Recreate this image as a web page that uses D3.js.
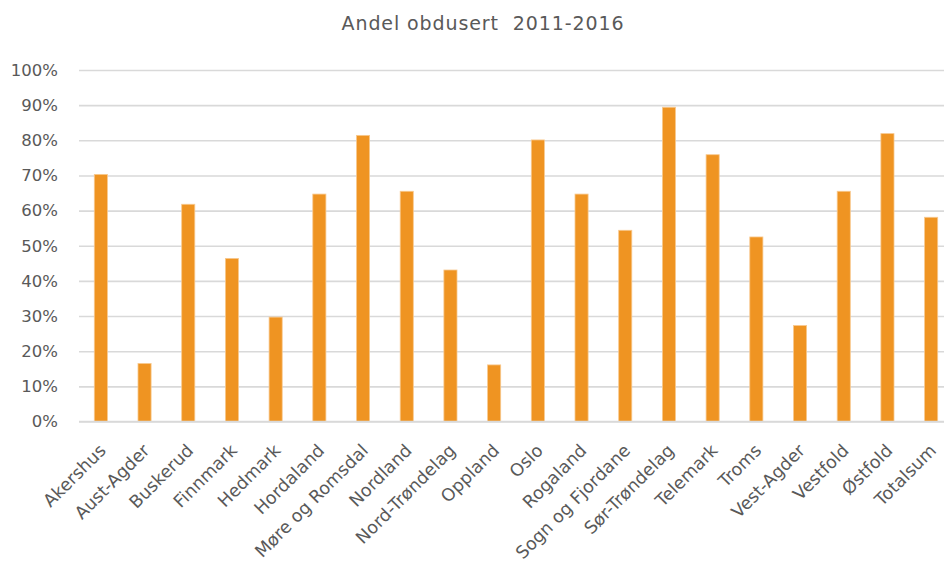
<!DOCTYPE html>
<html lang="no">
<head>
  <meta charset="UTF-8">
  <title>Andel obdusert 2011-2016</title>
  <script src="https://d3js.org/d3.v7.min.js"></script>
  <style>
    body { margin: 0; background: #fff; }
    svg { display: block; font-family: "DejaVu Sans", sans-serif; }
  </style>
</head>
<body>
  <script>
    const fylker = ['Akershus', 'Aust-Agder', 'Buskerud', 'Finnmark', 'Hedmark', 'Hordaland',
      'Møre og Romsdal', 'Nordland', 'Nord-Trøndelag', 'Oppland', 'Oslo', 'Rogaland',
      'Sogn og Fjordane', 'Sør-Trøndelag', 'Telemark', 'Troms', 'Vest-Agder', 'Vestfold',
      'Østfold', 'Totalsum'];
    const andel = [70.3, 16.5, 61.8, 46.4, 29.7, 64.7, 81.4, 65.5, 43.1, 16.1, 80.1, 64.7,
      54.4, 89.4, 75.9, 52.5, 27.3, 65.5, 81.9, 58.1];
    const yTicks = [0, 10, 20, 30, 40, 50, 60, 70, 80, 90, 100];

    const w = 944;
    const h = 572;

    // plot area, right side runs past the window edge like in the original
    const plotLeft = 79, plotRight = 953, plotTop = 70, plotBottom = 421.5;

    const svg = d3.select('body')
      .append('svg')
      .attr('width', w)
      .attr('height', h)

    const x = d3.scaleBand()
      .domain(fylker)
      .range([plotLeft, plotRight])
      .paddingInner(0.7)
      .paddingOuter(0.35)

    const y = d3.scaleLinear()
      .domain([0, 100])
      .range([plotBottom, plotTop])

    // title
    svg.append('text')
      .attr('x', 483)
      .attr('y', 30)
      .attr('text-anchor', 'middle')
      .attr('font-size', 19)
      .attr('letter-spacing', 0.9)
      .attr('fill', '#595959')
      .style('white-space', 'pre')
      .text('Andel obdusert  2011-2016')

    // gridlines + y labels
    const yAxis = d3.axisLeft(y)
      .tickValues(yTicks)
      .tickSize(-(w - plotLeft))
      .tickFormat(d => d + '%')

    const gy = svg.append('g')
      .attr('transform', `translate(${plotLeft},0)`)
      .call(yAxis)
    gy.select('.domain').remove()
    gy.selectAll('line').attr('stroke', '#d9d9d9').attr('stroke-width', 1.6)
    gy.selectAll('text')
      .attr('x', -21)
      .attr('font-size', 16.5)
      .attr('fill', '#595959')
      .attr('font-family', '"DejaVu Sans", sans-serif')

    // bars
    svg.selectAll('rect.bar')
      .data(fylker)
      .enter()
      .append('rect')
      .attr('class', 'bar')
      .attr('x', (d) => x(d))
      .attr('y', (d, i) => y(andel[i]))
      .attr('width', x.bandwidth())
      .attr('height', (d, i) => y(0) - y(andel[i]))
      .attr('fill', '#ef9422')
      .attr('stroke', '#f8c98f')
      .attr('stroke-width', 0.8)

    // x axis
    const xAxis = d3.axisBottom(x).tickSize(0)
    const gx = svg.append('g')
      .attr('transform', `translate(0,${plotBottom})`)
      .call(xAxis)
    gx.select('.domain').remove()
    gx.selectAll('text')
      .attr('font-size', 17.5)
      .attr('fill', '#595959')
      .attr('font-family', '"DejaVu Sans", sans-serif')
      .attr('text-anchor', 'end')
      .attr('dy', 0)
      .attr('transform', 'translate(4,28) rotate(-45)')

    svg.append('line')
      .attr('x1', plotLeft).attr('x2', w)
      .attr('y1', plotBottom).attr('y2', plotBottom)
      .attr('stroke', '#d9d9d9')
      .attr('stroke-width', 1.6)
  </script>
</body>
</html>
